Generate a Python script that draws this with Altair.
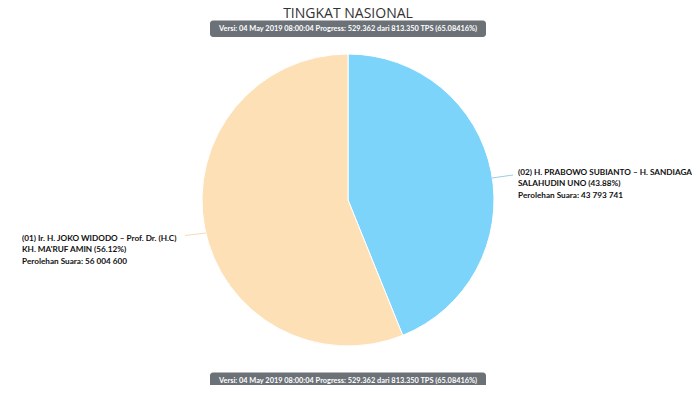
import altair as alt
import pandas as pd

# ---- data ----
candidates = ["(02) H. PRABOWO SUBIANTO – H. SANDIAGA SALAHUDIN UNO",
              "(01) Ir. H. JOKO WIDODO – Prof. Dr. (H.C) KH. MA'RUF AMIN"]
votes = [43793741, 56004600]
percents = [43.88, 56.12]
colors = ["#7dd4fb", "#fee0b6"]
order = [1, 2]

title_text = "TINGKAT NASIONAL"
badge_text = "Versi: 04 May 2019 08:00:04 Progress: 529.362 dari 813.350 TPS (65.08416%)"
label_right = ["(02) H. PRABOWO SUBIANTO – H. SANDIAGA",
               "SALAHUDIN UNO (43.88%)",
               "Perolehan Suara: 43 793 741"]
label_left = ["(01) Ir. H. JOKO WIDODO – Prof. Dr. (H.C)",
              "KH. MA'RUF AMIN (56.12%)",
              "Perolehan Suara: 56 004 600"]

df = pd.DataFrame({"candidate": candidates, "votes": votes,
                   "pct": percents, "order": order})

W, H = 684, 377
FONT = "Lato"

pie = alt.Chart(df).mark_arc(outerRadius=146, stroke="white", strokeWidth=1).encode(
    theta=alt.Theta("votes:Q", stack=True),
    order=alt.Order("order:Q"),
    color=alt.Color("candidate:N", scale=alt.Scale(domain=candidates, range=colors), legend=None),
    x=alt.value(340), y=alt.value(192),
)

one = pd.DataFrame({"a": [0]})

title = alt.Chart(one).mark_text(font="Open Sans", fontSize=14, color="#333333",
                                 align="center", baseline="alphabetic").encode(
    x=alt.value(340), y=alt.value(10), text=alt.value(title_text))

def badge(y0):
    rect = alt.Chart(one).mark_rect(color="#6b7177", cornerRadius=3).encode(
        x=alt.value(202), x2=alt.value(478), y=alt.value(y0), y2=alt.value(y0 + 16.5))
    txt = alt.Chart(one).mark_text(font=FONT, fontSize=7.4, fontWeight="bold", color="#ffffff",
                                   align="center", baseline="middle").encode(
        x=alt.value(340), y=alt.value(y0 + 8.5), text=alt.value(badge_text))
    return rect + txt

b_top = badge(12.5)
b_bot = badge(364.5)

conn_r = alt.Chart(one).mark_rule(color="#9ecbe6", strokeWidth=1).encode(
    x=alt.value(484), y=alt.value(170), x2=alt.value(505), y2=alt.value(167))
conn_l = alt.Chart(one).mark_rule(color="#f5dcb5", strokeWidth=1).encode(
    x=alt.value(177), y=alt.value(227.5), x2=alt.value(198), y2=alt.value(225))

lab_r = alt.Chart(one).mark_text(font=FONT, fontSize=8.2, fontWeight="bold", color="#111111",
                                 align="left", baseline="middle", lineHeight=11.5).encode(
    x=alt.value(510), y=alt.value(164.5), text=alt.value(label_right))
lab_l = alt.Chart(one).mark_text(font=FONT, fontSize=8.2, fontWeight="bold", color="#111111",
                                 align="left", baseline="middle", lineHeight=11.5).encode(
    x=alt.value(14), y=alt.value(230.5), text=alt.value(label_left))

chart = alt.layer(pie, conn_r, conn_l, lab_r, lab_l, b_top, b_bot, title).properties(
    width=W, height=H, padding=0, autosize=alt.AutoSizeParams(type="none"),
    background="white"
).configure_view(stroke=None)

chart.save("out.html", embed_options={"renderer": "svg", "actions": False})
